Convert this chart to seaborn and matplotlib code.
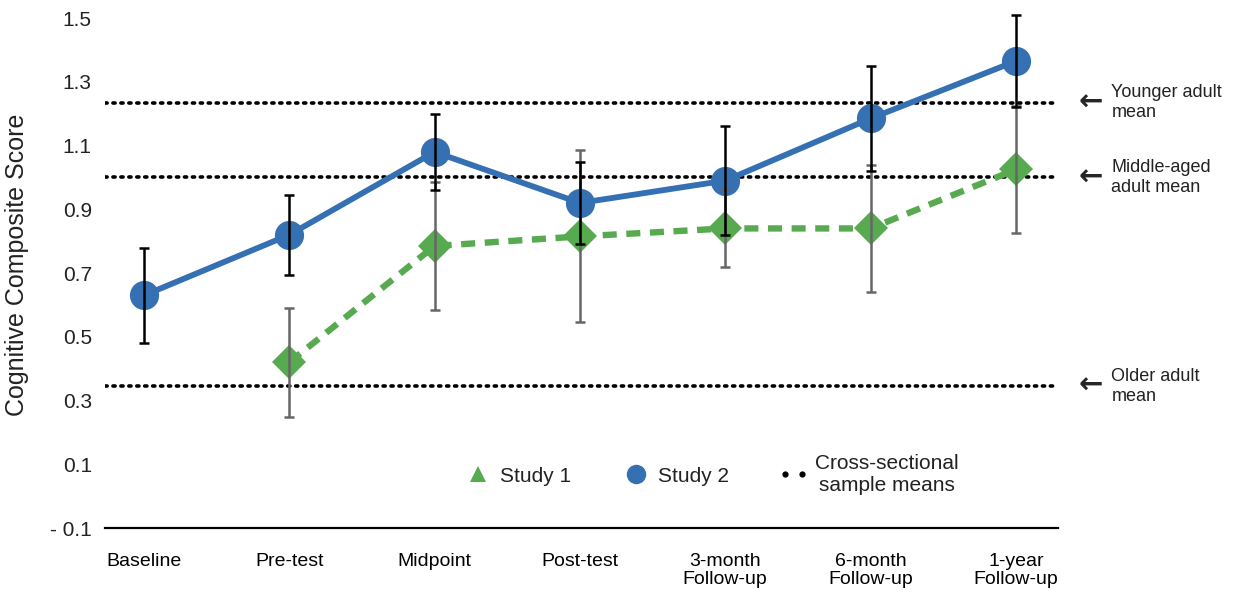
import numpy as np
import pandas as pd
import seaborn as sns
from matplotlib import pyplot as plt
from matplotlib.lines import Line2D
from matplotlib.legend_handler import HandlerLine2D

stages = ["Baseline", "Pre-test", "Midpoint", "Post-test",
          "3-month\nFollow-up", "6-month\nFollow-up", "1-year\nFollow-up"]
study1_mean = [np.nan, 0.42, 0.785, 0.815, 0.84, 0.84, 1.025]
study1_err = [np.nan, 0.17, 0.2, 0.27, 0.12, 0.2, 0.2]
study2_mean = [0.63, 0.82, 1.08, 0.92, 0.99, 1.185, 1.365]
study2_err = [0.15, 0.125, 0.12, 0.13, 0.17, 0.165, 0.145]
ref_means = [1.235, 1.0, 0.345]
ref_labels = ["Younger adult\nmean", "Middle-aged\nadult mean", "Older adult\nmean"]
yticks = [-0.1, 0.1, 0.3, 0.5, 0.7, 0.9, 1.1, 1.3, 1.5]

blue = "#3470b2"
green = "#57aa4f"

sns.set_style("white")
plt.rcParams['font.family'] = ['Liberation Sans', 'DejaVu Sans']

df = pd.DataFrame({"x": np.arange(len(stages)),
                   "s1": study1_mean, "e1": study1_err,
                   "s2": study2_mean, "e2": study2_err})

fig = plt.figure(figsize=(12.34, 5.94), dpi=100)
ax = fig.add_axes([0.0851, 0.111, 0.7723, 0.8854])

# reference lines
for m in ref_means:
    ax.axhline(m, color="black", linestyle=(0, (0.6, 1.6)), linewidth=2.6,
               dash_capstyle="round", zorder=1)

d1 = df.dropna()
sns.lineplot(data=d1, x="x", y="s1", ax=ax, color=green, linewidth=4.6,
             linestyle=(0, (2.2, 1.5)), marker="D", markersize=17,
             markeredgewidth=0, zorder=3)
sns.lineplot(data=df, x="x", y="s2", ax=ax, color=blue, linewidth=4.2,
             marker="o", markersize=21, markeredgewidth=0, zorder=4)

ax.errorbar(d1["x"], d1["s1"], yerr=d1["e1"], fmt="none", ecolor="#666666",
            elinewidth=1.8, capsize=3.5, capthick=1.8, zorder=5)
ax.errorbar(df["x"], df["s2"], yerr=df["e2"], fmt="none", ecolor="black",
            elinewidth=1.8, capsize=3.5, capthick=1.8, zorder=6)

ax.set_xlim(-0.268, 6.29)
ax.set_ylim(-0.1, 1.55)
ax.set_xticks(range(len(stages)))
ax.set_xticklabels(stages, fontsize=14, va="top", color="#222222", linespacing=1.1)
ax.set_yticks(yticks)
ax.set_yticklabels(["- 0.1" if v < 0 else f"{v:.1f}" for v in yticks], fontsize=15,
                   color="#222222")
ax.tick_params(axis="x", direction="inout", length=12, width=1.4, pad=12, colors="black")
ax.tick_params(axis="y", length=0, pad=9.5)
ax.set_xlabel("")
ax.set_ylabel("Cognitive Composite Score", fontsize=18, color="#222222")
ax.yaxis.set_label_coords(-0.08, 0.5)

for side in ["top", "right", "left"]:
    ax.spines[side].set_visible(False)
ax.spines["bottom"].set_linewidth(1.6)
ax.spines["bottom"].set_color("black")

# right-side annotations
for m, lab in zip(ref_means, ref_labels):
    ax.text(1.022, m, "\u2190", transform=ax.get_yaxis_transform(), fontsize=21,
            fontweight="bold", va="center", ha="left", family=['DejaVu Sans'])
    ax.text(1.056, m, lab, transform=ax.get_yaxis_transform(), fontsize=13,
            va="center", ha="left", linespacing=1.2, color="#222222")

h1 = Line2D([], [], color=green, marker="^", markersize=12, linestyle="none", markeredgewidth=0)
h2 = Line2D([], [], color=blue, marker="o", markersize=14, linestyle="none", markeredgewidth=0)
h3 = Line2D([], [], color="black", marker="o", markersize=4.5, linestyle="none", markeredgewidth=0)
leg = fig.legend([h1, h2, h3], ["Study 1", "Study 2", "Cross-sectional\nsample means"],
                 loc="center", bbox_to_anchor=(0.578, 0.202), ncol=3, frameon=False,
                 fontsize=15, handlelength=1.0, columnspacing=2.6, handletextpad=0.55,
                 handler_map={h3: HandlerLine2D(numpoints=2, marker_pad=0.1)})
for t in leg.get_texts():
    t.set_multialignment("center")
    t.set_color("#222222")

fig.savefig("out.png", dpi=100)
